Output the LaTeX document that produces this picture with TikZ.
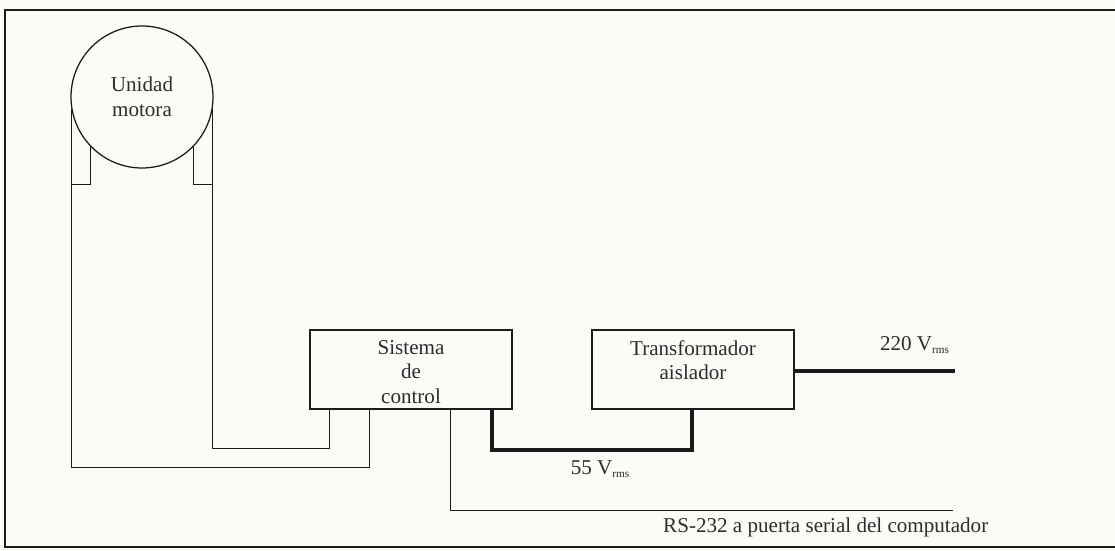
\documentclass[tikz,border=0pt]{standalone}
\usepackage{fontspec}
\setmainfont{Liberation Serif}
\usepackage{xcolor}
\usepackage{tikz}
\definecolor{PaperBg}{HTML}{FCFBF8}
\definecolor{InkLine}{HTML}{1C1A1A}
\definecolor{InkText}{HTML}{2E2C2C}
\newcommand{\rmsub}{\raisebox{-0.35ex}{\fontsize{8}{9}\selectfont rms}}

\begin{document}
\begin{tikzpicture}[x=1cm,y=1cm,
  wire/.style={InkLine,line width=.7pt},
  power/.style={InkLine,line width=2.2pt},
  block/.style={draw=InkLine,line width=.9pt,rectangle,minimum width=5.05cm,minimum height=1.975cm,inner sep=0pt},
  lbl/.style={text=InkText,align=center,font=\fontsize{15}{17.5}\selectfont}]
\path[use as bounding box] (0,0) rectangle (27.875,13.775);
\fill[PaperBg] (0,0) rectangle (27.875,13.775);
\draw[InkLine,line width=1.1pt] (27.875,13.525) -- (0.125,13.525) -- (0.125,0.10) -- (27.875,0.10);
% motor and blocks
\node[circle,draw=InkLine,line width=.9pt,minimum size=3.55cm,inner sep=0pt,lbl] (motor) at (3.55,11.35) {Unidad\\motora};
\node[block] (control) at (10.275,4.5375) {};
\node[lbl] (controltxt) at (10.275,4.475) {Sistema\\de\\control};
\node[block] (trafo) at (17.325,4.5375) {};
\node[lbl] (trafotxt) at (17.325,4.775) {Transformador\\aislador};
% motor legs
\draw[wire] (motor.224) |- (1.802,9.15);
\draw[wire] (motor.316) |- (5.298,9.15);
\draw[wire] (motor.190) |- (9.225,2.10) -- (control.south -| 9.225,0);
\draw[wire] (motor.350) |- (8.225,2.575) -- (control.south -| 8.225,0);
% serial line
\coordinate (rsend) at (23.825,1.025);
\draw[wire] (control.south -| 11.25,0) |- (rsend);
\node[lbl,anchor=east] (rslbl) at (24.83,0.58) {RS-232 a puerta serial del computador};
% supply lines
\draw[power] (control.south -| 12.3,0) -- (12.3,2.525) -- (17.3,2.525) -- (trafo.south -| 17.3,0);
\node[lbl] (lowv) at (15.0,2.05) {55 V\rmsub};
\coordinate (mainsend) at (23.875,4.5);
\draw[power] (trafo.east |- mainsend) -- (mainsend);
\node[lbl,anchor=east] (highv) at (23.85,5.15) {220 V\rmsub};
\end{tikzpicture}
\end{document}
